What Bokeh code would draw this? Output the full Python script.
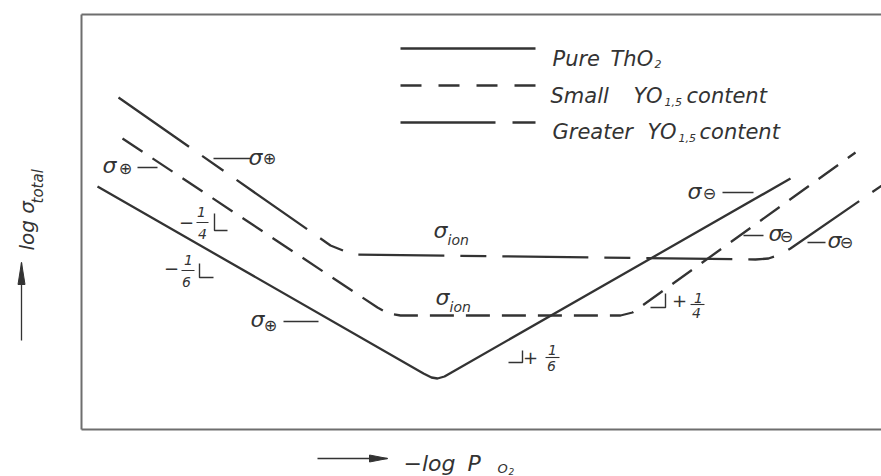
import math
from bokeh.plotting import figure
from bokeh.models import Range1d
from bokeh.core.properties import value
from bokeh.embed import file_html
from bokeh.resources import INLINE

# ---------------- data (schematic units: x = -log P(O2), y = log sigma_total) -------------
# frame of the diagram
frame_x_max = 800
frame_y_max = 415

# Pure ThO2 (solid)
pure_x = [16, 342, 350, 356, 363, 370, 709]
pure_y = [243, 56, 52, 51, 53, 57, 251]

# Small YO1,5 content (dashed)
small_x = [41, 296, 307, 319, 539, 551, 561, 774]
small_y = [291, 122, 116, 114, 114, 117, 124, 277]

# Greater YO1,5 content (long dash - short dash)
greater_x = [37, 249, 264, 274, 674, 687, 699, 709, 809]
greater_y = [332, 184, 178, 175, 170, 171, 175, 181, 250]

# legend
legend_line_x = [319, 454]
legend_line_y = [381, 344, 307]
legend_words = ["Pure", "ThO", "Small", "YO", "content", "Greater", "YO", "content"]
legend_word_x = [471, 529, 469, 552, 605, 471, 566, 618]
legend_word_y = [371, 371, 334, 334, 334, 298, 298, 298]
legend_subs = ["2", "1,5", "1,5"]
legend_sub_x = [573, 583, 597]
legend_sub_y = [366, 328, 292]

# sigma labels
sigma_x = [21, 167, 169, 606, 687, 746, 352, 354]
sigma_y = [264, 272, 110, 238, 196, 189, 199, 132]
charge_text = ["⊕", "⊕", "⊕", "⊖", "⊖", "⊖"]
charge_x = [44, 188, 189, 628, 705, 765]
charge_y = [261, 271, 104, 236, 193, 187]
ion_x = [366, 368]
ion_y = [190, 123]

# leader lines next to the sigma labels
leader_x0 = [56, 132, 202, 641, 662, 726]
leader_x1 = [76, 169, 237, 672, 682, 744]
leader_y = [262, 271, 108, 237, 194, 187]

# slope indicators
slope_sign = ["−", "−", "+", "+"]
slope_sign_x = [105, 90, 449, 598]
slope_sign_y = [207, 161, 72, 129]
slope_num_x = [120, 107, 471, 617]
slope_num_y = [218, 170, 80, 132]
slope_den = ["4", "6", "6", "4"]
slope_den_x = [121, 105, 470, 615]
slope_den_y = [196, 148, 64, 117]
slope_bar_x0 = [115, 100, 464, 609]
slope_bar_x1 = [127, 113, 478, 623]
slope_bar_y = [207, 159, 72, 125]
bracket_xs = [[133, 133, 146], [118, 118, 132], [427, 441, 441], [569, 584, 584]]
bracket_ys = [[216, 199, 199], [166, 152, 152], [67, 67, 79], [122, 122, 136]]

# axis annotations
ylab_x = -55
ylab_y = 179
ylab_sub_x = -44
ylab_sub_y = 226
yarrow = (-60, 89, -60, 167)
xarrow = (236, -29, 306, -29)
xlab_parts = ["−log", "P"]
xlab_x = [322, 386]
xlab_y = -34
xsub_x = [416, 427]
xsub_y = [-39, -42]

INK = "#333333"
FONT = value("DejaVu Sans")

p = figure(width=881, height=476, x_range=Range1d(-81, 800), y_range=Range1d(-47, 429),
           x_axis_type=None, y_axis_type=None, min_border=0, toolbar_location=None,
           output_backend="svg", outline_line_color=None,
           background_fill_color="white", border_fill_color="white")

# frame (left, bottom, top)
p.multi_line(xs=[[0, 0], [0, frame_x_max], [0, frame_x_max]],
             ys=[[0, frame_y_max], [0, 0], [frame_y_max, frame_y_max]],
             line_color="#6e6e6e", line_width=2)

# curves
p.line(pure_x, pure_y, line_color=INK, line_width=2.3)
p.line(small_x, small_y, line_color=INK, line_width=2.3, line_dash="24 12")
p.line(greater_x, greater_y, line_color=INK, line_width=2.3, line_dash="86 16 26 16")

# legend samples
lx0, lx1 = legend_line_x
p.line([lx0, lx1], [legend_line_y[0]] * 2, line_color=INK, line_width=2.3)
p.line([lx0, lx1], [legend_line_y[1]] * 2, line_color=INK, line_width=2.3, line_dash="21 17")
p.line([lx0, lx1], [legend_line_y[2]] * 2, line_color=INK, line_width=2.3, line_dash="95 17 23 17")


def txt(x, y, t, size, style="italic", align="left", baseline="alphabetic", angle=0.0):
    p.text(x=x, y=y, text=t, text_font=FONT, text_font_style=style,
           text_font_size=size, text_color=INK, text_align=align,
           text_baseline=baseline, angle=angle)


txt(legend_word_x, legend_word_y, legend_words, "21px")
txt(legend_sub_x, legend_sub_y, legend_subs, "11px")

# sigma labels
txt(sigma_x, sigma_y, ["σ"] * len(sigma_x), "22px")
txt(charge_x, charge_y, charge_text, "16px", style="normal", align="center", baseline="middle")
txt(ion_x, ion_y, ["ion"] * 2, "14px")
p.segment(x0=leader_x0, y0=leader_y, x1=leader_x1, y1=leader_y, line_color=INK, line_width=1.3)

# slope indicators
txt(slope_sign_x, slope_sign_y, slope_sign, "18px", style="normal", align="center", baseline="middle")
txt(slope_num_x, slope_num_y, ["1"] * 4, "14px", align="center", baseline="middle")
txt(slope_den_x, slope_den_y, slope_den, "14px", align="center", baseline="middle")
p.segment(x0=slope_bar_x0, y0=slope_bar_y, x1=slope_bar_x1, y1=slope_bar_y, line_color=INK, line_width=1.1)
p.multi_line(xs=bracket_xs, ys=bracket_ys, line_color=INK, line_width=1.4)


# axis arrows
def arrow(x0, y0, x1, y1, head_len, head_half):
    p.line([x0, x1], [y0, y1], line_color=INK, line_width=1.3)
    dx, dy = x1 - x0, y1 - y0
    L = math.hypot(dx, dy)
    ux, uy = dx / L, dy / L
    bx, by = x1 - ux * head_len, y1 - uy * head_len
    p.patch([x1, bx - uy * head_half, bx + uy * head_half],
            [y1, by + ux * head_half, by - ux * head_half],
            fill_color=INK, line_color=INK, line_width=1)


arrow(*yarrow, 22, 3.5)
arrow(*xarrow, 18, 3.5)

# axis labels
txt([ylab_x], [ylab_y], ["log σ"], "20px", angle=math.pi / 2)
txt([ylab_sub_x], [ylab_sub_y], ["total"], "15px", angle=math.pi / 2)
txt(xlab_x, [xlab_y] * 2, xlab_parts, "22px")
txt([xsub_x[0]], [xsub_y[0]], ["O"], "13px")
txt([xsub_x[1]], [xsub_y[1]], ["2"], "9px")

open("out.html", "w").write(file_html(p, INLINE))
